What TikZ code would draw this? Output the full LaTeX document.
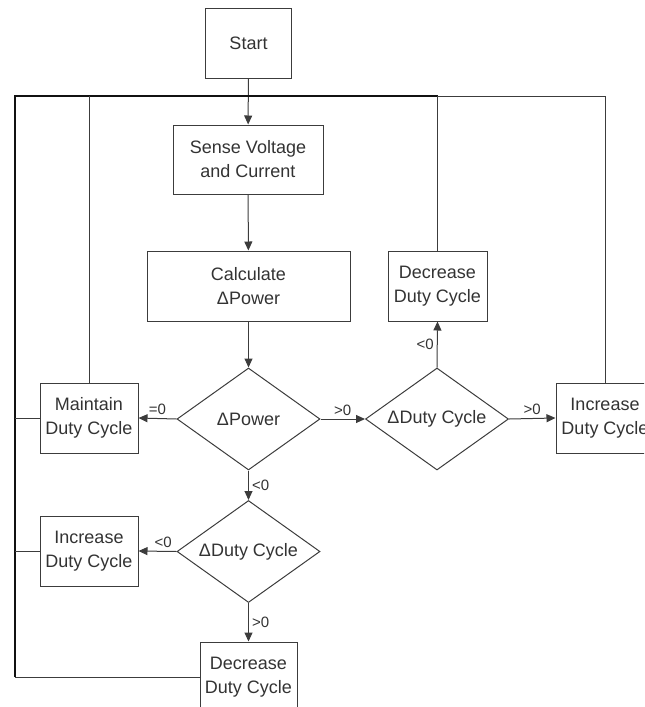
\documentclass[tikz,border=0pt]{standalone}
\usepackage{fontspec}
\setmainfont{Liberation Sans}
\usepackage{xcolor}
\definecolor{boxline}{HTML}{3C3C3C}
\definecolor{ink}{HTML}{333333}
\definecolor{loopline}{HTML}{111111}
\usetikzlibrary{arrows.meta,positioning,shapes.geometric}

\begin{document}
\begin{tikzpicture}[x=0.5pt, y={(0pt,-0.5pt)},
	>={Triangle[length=4.5pt,width=4pt]},
	box/.style={draw=boxline, line width=0.5pt, text=ink, align=center, inner sep=1pt,
		font=\fontsize{9}{12}\selectfont},
	decision/.style={box, diamond, shape aspect=1.4, inner sep=0pt,
		minimum width=71.5pt, minimum height=51pt},
	flow/.style={->, boxline, line width=0.5pt},
	back/.style={boxline, line width=0.5pt},
	lbl/.style={text=ink, font=\fontsize{7.5}{9}\selectfont, inner sep=1.5pt}]

	\useasboundingbox (0,0) rectangle (644,707);
	\clip (0,0) rectangle (644,707);

	% ================= main column =================
	\node[box, minimum width=43pt, minimum height=35pt] (start) at (248.5,43) {Start};
	\node[box, minimum width=75pt, minimum height=34.5pt] (sense) at (248,159.5) {Sense Voltage\\and Current};
	\node[box, minimum width=101.5pt, minimum height=35pt] (calc) at (248.5,286) {Calculate\\ΔPower};
	\node[decision] (pwr) at (248.5,419) {ΔPower};

	% ================= right branch =================
	\node[decision] (duty1) at (437,419) {ΔDuty Cycle};
	\node[box, minimum width=49.5pt, minimum height=35pt] (decr1) at (437.5,286) {Decrease\\Duty Cycle};
	\node[box, minimum width=49pt, minimum height=35pt] (incr1) at (605,418) {Increase\\Duty Cycle};

	% ================= left / lower branch =================
	\node[box, minimum width=49pt, minimum height=35pt] (maint) at (89,418) {Maintain\\Duty Cycle};
	\node[decision] (duty2) at (248.5,551.5) {ΔDuty Cycle};
	\node[box, minimum width=49pt, minimum height=35pt] (incr2) at (89,551) {Increase\\Duty Cycle};
	\node[box, minimum width=48.5pt, minimum height=35pt] (decr2) at (248.5,677) {Decrease\\Duty Cycle};

	% forward arrows
	\draw[flow] (start) -- (sense);
	\draw[flow] (sense) -- (calc);
	\draw[flow] (calc) -- (pwr);
	\draw[flow] (pwr.west) -- node[lbl, above] {=0} (maint.east);
	\draw[flow] (pwr.east) -- node[lbl, above] {>0} (duty1.west);
	\draw[flow] (duty1.east) -- node[lbl, above] {>0} (incr1.west);
	\draw[flow] (duty1.north) -- node[lbl, left] {<0} (decr1.south);
	\draw[flow] (pwr.south) -- node[lbl, right] {<0} (duty2.north);
	\draw[flow] (duty2.west) -- node[lbl, above, pos=0.35] {<0} (incr2.east);
	\draw[flow] (duty2.south) -- node[lbl, right] {>0} (decr2.north);

	% feedback loop back to the sensing step
	\coordinate (tl) at (15,96);
	\coordinate (tr) at (605,96);
	\coordinate (bl) at (decr2.west -| tl);
	\draw[loopline, line width=1pt] (bl) -- (tl) -- (decr1.north |- tl);
	\draw[back] (decr1.north |- tl) -- (tr);
	\draw[back] (decr2.west) -- (bl);
	\draw[back] (maint.north) -- (maint.north |- tl);
	\draw[back] (decr1.north) -- (decr1.north |- tl);
	\draw[back] (incr1.north) -- (tr);
	\draw[back] (maint.west) -- (maint.west -| tl);
	\draw[back] (incr2.west) -- (incr2.west -| tl);

\end{tikzpicture}
\end{document}
